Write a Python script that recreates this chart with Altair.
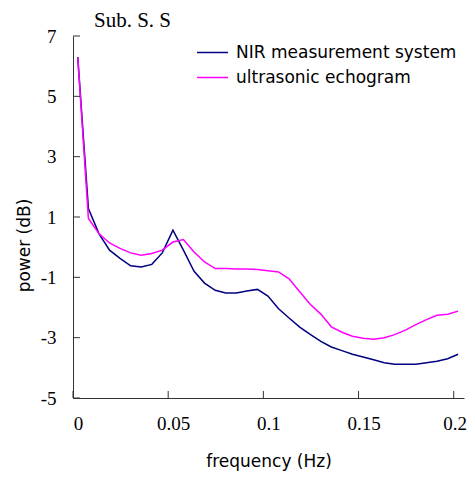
import altair as alt
import pandas as pd

freq = [0.0025, 0.0081, 0.0136, 0.0192, 0.0247, 0.0303, 0.0358, 0.0414, 0.0469,
        0.0525, 0.0580, 0.0636, 0.0691, 0.0747, 0.0802, 0.0858, 0.0913, 0.0969,
        0.1024, 0.1080, 0.1135, 0.1191, 0.1246, 0.1302, 0.1357, 0.1413, 0.1468,
        0.1524, 0.1579, 0.1635, 0.1690, 0.1746, 0.1801, 0.1857, 0.1912, 0.1968,
        0.2023]
nir = [6.30, 1.28, 0.45, -0.10, -0.37, -0.62, -0.66, -0.57, -0.19, 0.56, -0.10,
       -0.80, -1.19, -1.43, -1.52, -1.52, -1.45, -1.40, -1.62, -2.04, -2.35, -2.65,
       -2.89, -3.12, -3.31, -3.43, -3.55, -3.64, -3.73, -3.83, -3.88, -3.88, -3.88,
       -3.83, -3.78, -3.70, -3.55]
ultra = [6.28, 0.95, 0.45, 0.14, -0.04, -0.19, -0.27, -0.21, -0.10, 0.17, 0.25,
         -0.16, -0.49, -0.71, -0.71, -0.72, -0.72, -0.74, -0.78, -0.82, -1.05, -1.48,
         -1.89, -2.22, -2.64, -2.82, -2.95, -3.02, -3.05, -3.00, -2.90, -2.75, -2.57,
         -2.40, -2.26, -2.22, -2.12]
series_names = ["NIR measurement system", "ultrasonic echogram"]
series_colors = ["#000080", "#FF00FF"]
x_ticks = [0, 0.05, 0.1, 0.15, 0.2]
y_ticks = [-5, -3, -1, 1, 3, 5, 7]
chart_title = ["Sub. S. S"]

W, H = 391, 362

rows = []
for f, a, b in zip(freq, nir, ultra):
    rows.append({"freq": f, "power": a, "series": series_names[0]})
    rows.append({"freq": f, "power": b, "series": series_names[1]})
df = pd.DataFrame(rows)

xscale = alt.Scale(domain=[0, 0.2054], nice=False, zero=False)
yscale = alt.Scale(domain=[-5, 7], nice=False, zero=False)

lines = alt.Chart(df).mark_line(strokeWidth=1.5).encode(
    x=alt.X("freq:Q", scale=xscale,
            axis=alt.Axis(values=x_ticks, ticks=False, grid=False, labelFlush=False,
                          title="frequency (Hz)", labelExpr="'' + datum.value",
                          labelOffset={"condition": {"test": "datum.value >= 0.2", "value": 1},
                                       "value": 5},
                          labelPadding=16, titlePadding=20)),
    y=alt.Y("power:Q", scale=yscale,
            axis=alt.Axis(values=y_ticks, ticks=False, grid=False,
                          title="power (dB)", labelPadding=17, labelExpr="'' + datum.value",
                          titleX=-49, titleY=209, titleBaseline="middle")),
    color=alt.Color("series:N",
                    scale=alt.Scale(domain=series_names, range=series_colors),
                    legend=alt.Legend(title=None, orient="none", legendX=123, legendY=0,
                                      symbolType="stroke", symbolSize=961,
                                      symbolStrokeWidth=1.5, labelFont="DejaVu Sans",
                                      labelFontSize=17, labelColor="black", labelLimit=0,
                                      labelOffset=7, rowPadding=0, padding=0)),
)

xt = pd.DataFrame({"t": x_ticks})
yt = pd.DataFrame({"t": y_ticks})
xtick_rules = alt.Chart(xt).mark_rule(color="#333333", strokeWidth=1).encode(
    x=alt.X("t:Q", scale=xscale), y=alt.value(H), y2=alt.value(H - 7))
ytick_rules = alt.Chart(yt).mark_rule(color="#333333", strokeWidth=1).encode(
    y=alt.Y("t:Q", scale=yscale), x=alt.value(0), x2=alt.value(7))

title_text = alt.Chart(pd.DataFrame({"label": chart_title})).mark_text(
    font="Liberation Serif", fontSize=21, color="black", align="left",
    baseline="alphabetic").encode(text="label:N", x=alt.value(21), y=alt.value(-9))

chart = alt.layer(lines, xtick_rules, ytick_rules, title_text).properties(
    width=W, height=H,
    autosize=alt.AutoSizeParams(type="none"),
    padding={"left": 65, "top": 28, "right": 3, "bottom": 73},
).configure_view(stroke=None).configure_axis(
    domainColor="#333333", domainWidth=1,
    labelFont="Liberation Serif", labelFontSize=19, labelColor="black",
    titleFont="DejaVu Sans", titleFontSize=17, titleFontWeight="normal", titleColor="black",
)

chart.save("out.html", embed_options={"renderer": "svg", "actions": False})
